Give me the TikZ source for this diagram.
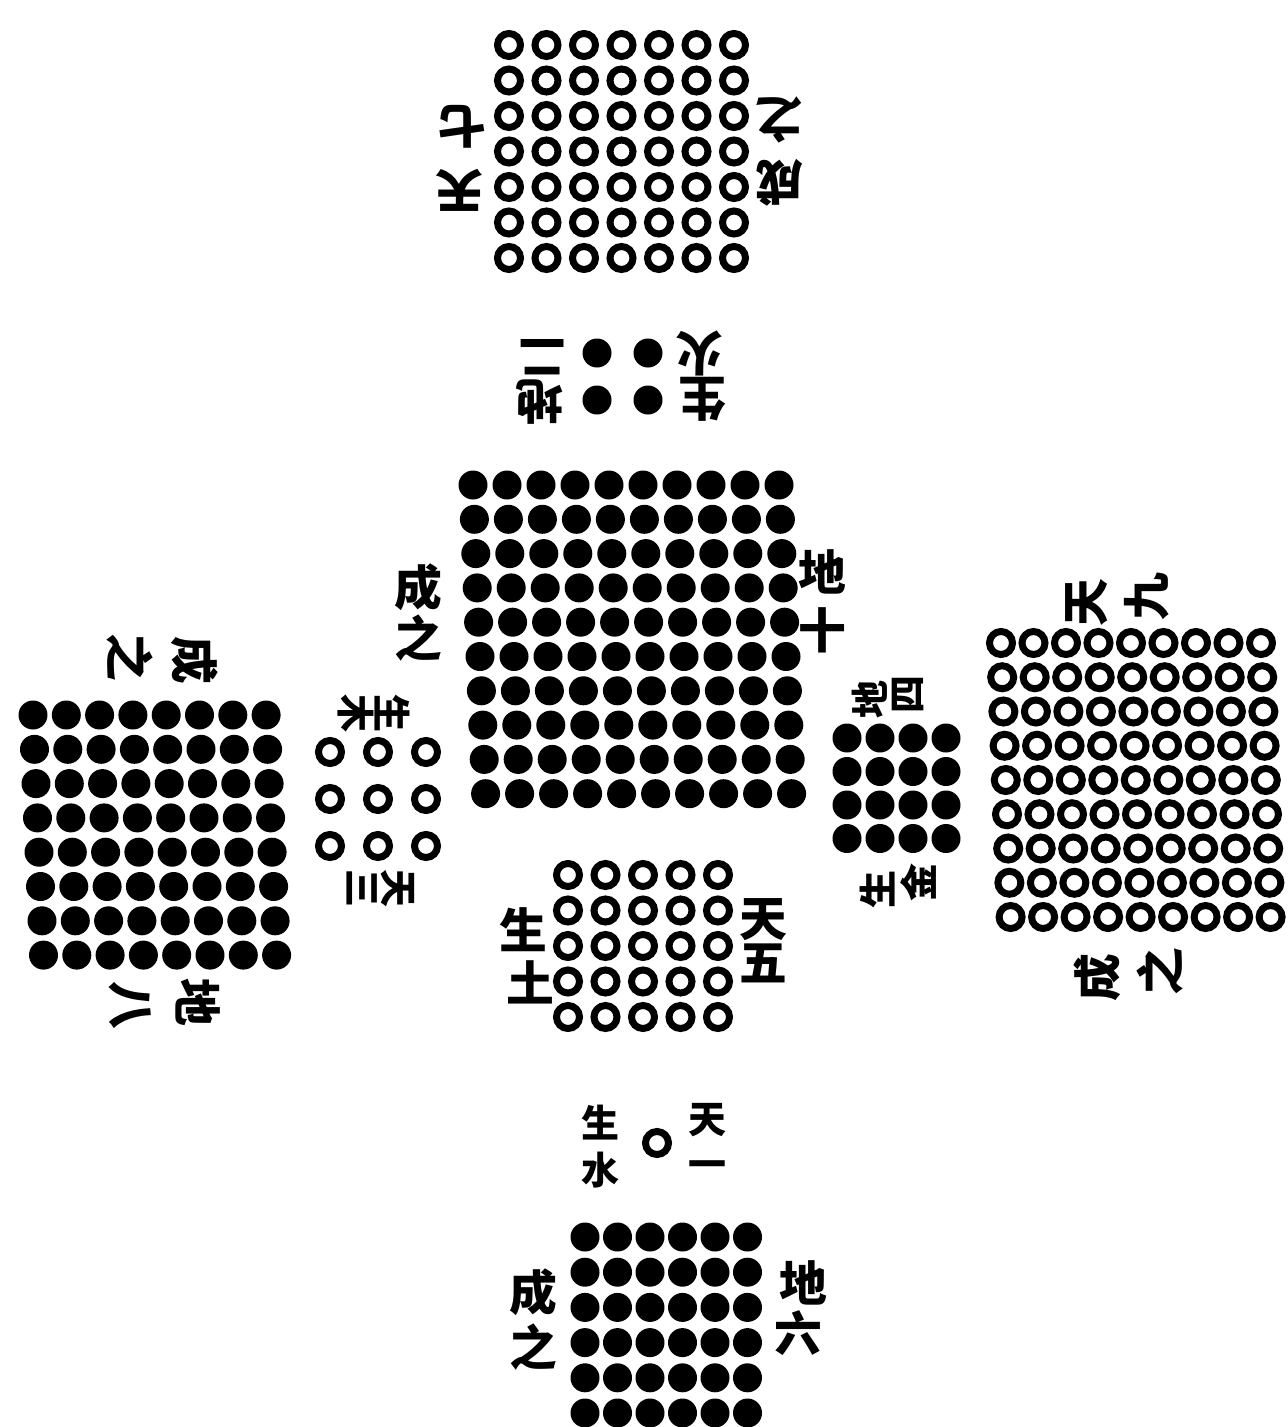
\documentclass[tikz,border=0pt]{standalone}
\usepackage{fontspec}
\newfontfamily\cjk{Noto Sans CJK SC}
\usepackage{tikz}

\begin{document}
\begin{tikzpicture}[x=0.05cm,y=-0.05cm,
yang/.style={circle,draw,line width=0.35cm,minimum size=1.15cm,inner sep=0pt},
yin/.style={circle,fill,minimum size=1.45cm,inner sep=0pt},
zi/.style={font=\cjk\bfseries\fontsize{68}{68}\selectfont,inner sep=0pt},
xiao/.style={zi,font=\cjk\bfseries\fontsize{54}{54}\selectfont}
]
\useasboundingbox (0,0) rectangle (1288,1427);

\foreach \r in {0,...,6} \foreach \c in {0,...,6}
  \node[yang] (qi-\r-\c) at ({509+37.5*\c},{45+35.5*\r}) {};
\node[zi,rotate=180] (qi-a) at (463,127) {七};
\node[zi,rotate=180] (qi-b) at (460,190) {天};
\node[zi,rotate=180] (qi-c) at (780,120) {之};
\node[zi,rotate=180] (qi-d) at (780,183) {成};

\foreach \r in {0,1} \foreach \c in {0,1}
  \node[yin] (er-\r-\c) at ({597+51*\c},{353+47*\r}) {};
\node[zi,rotate=180] (er-a) at (543,357) {二};
\node[zi,rotate=180] (er-b) at (540,402) {地};
\node[zi,rotate=180] (er-c) at (700,353) {火};
\node[zi,rotate=180] (er-d) at (703,399) {生};

\foreach \r in {0,...,9} \foreach \c in {0,...,9}
  \node[yin] (shi-\r-\c) at ({473+34*\c+1.4*\r},{485+34.3*\r}) {};
\node[zi] (shi-a) at (418,587) {成};
\node[zi] (shi-b) at (418,638) {之};
\node[zi] (shi-c) at (822,572) {地};
\node[zi] (shi-d) at (822,630) {十};

\foreach \r in {0,...,7} \foreach \c in {0,...,7}
  \node[yin] (ba-\r-\c) at ({33+33.3*\c+1.5*\r},{715+34.3*\r}) {};
\node[zi,rotate=-90] (ba-a) at (130,657) {之};
\node[zi,rotate=-90] (ba-b) at (195,660) {成};
\node[zi,rotate=-90] (ba-c) at (130,1005) {八};
\node[zi,rotate=-90] (ba-d) at (198,1002) {地};

\foreach \r in {0,1,2} \foreach \c in {0,1,2}
  \node[yang] (san-\r-\c) at ({330+48*\c},{752+47*\r}) {};
\node[xiao,rotate=-90] (san-a) at (356,713) {木};
\node[xiao,rotate=-90] (san-b) at (392,713) {生};
\node[xiao,rotate=-90] (san-c) at (362,888) {三};
\node[xiao,rotate=-90] (san-d) at (398,888) {天};

\foreach \r in {0,...,3} \foreach \c in {0,...,3}
  \node[yin] (si-\r-\c) at ({847+33*\c},{738+33.5*\r}) {};
\node[xiao,rotate=90] (si-a) at (870,700) {地};
\node[xiao,rotate=90] (si-b) at (908,695) {四};
\node[xiao,rotate=90] (si-c) at (878,890) {生};
\node[xiao,rotate=90] (si-d) at (918,883) {金};

\foreach \r in {0,...,8} \foreach \c in {0,...,8}
  \node[yang] (jiu-\r-\c) at ({1001+32.5*\c+1.2*\r},{643+34.25*\r}) {};
\node[zi,rotate=90] (jiu-a) at (1087,603) {天};
\node[zi,rotate=90] (jiu-b) at (1147,597) {九};
\node[zi,rotate=90] (jiu-c) at (1097,978) {成};
\node[zi,rotate=90] (jiu-d) at (1160,972) {之};

\foreach \r in {0,...,4} \foreach \c in {0,...,4}
  \node[yang] (wu-\r-\c) at ({568+37.5*\c},{875+35.5*\r}) {};
\node[zi] (wu-a) at (523,930) {生};
\node[zi] (wu-b) at (530,982) {土};
\node[zi] (wu-c) at (763,920) {天};
\node[zi] (wu-d) at (763,963) {五};

\node[yang] (yi-0-0) at (657,1143) {};
\node[xiao] (yi-a) at (600,1123) {生};
\node[xiao] (yi-b) at (600,1170) {水};
\node[xiao] (yi-c) at (707,1120) {天};
\node[xiao] (yi-d) at (707,1170) {一};

\foreach \r in {0,...,5} \foreach \c in {0,...,5}
  \node[yin] (liu-\r-\c) at ({585+32.5*\c},{1237+35.2*\r}) {};
\node[zi] (liu-a) at (533,1292) {成};
\node[zi] (liu-b) at (533,1347) {之};
\node[zi] (liu-c) at (803,1283) {地};
\node[zi] (liu-d) at (798,1333) {六};
\end{tikzpicture}
\end{document}
